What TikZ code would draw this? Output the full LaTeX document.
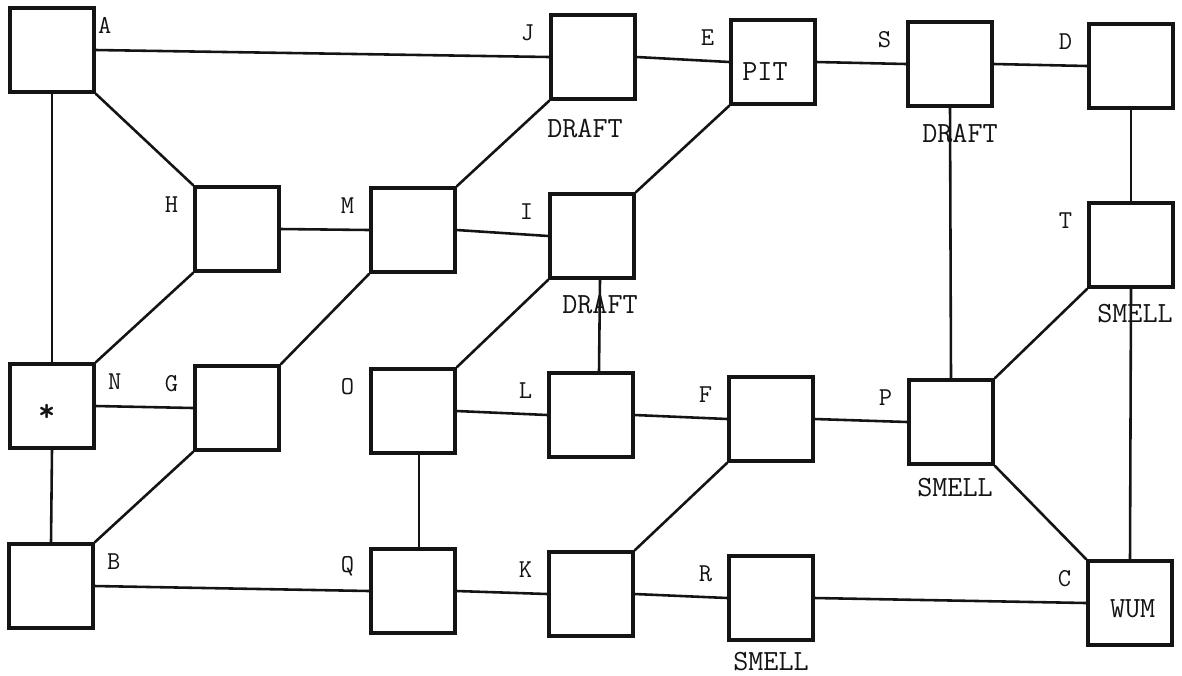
\documentclass[tikz,border=0pt]{standalone}
\usepackage{fontspec}
\usepackage{tikz}
\usetikzlibrary{positioning}
\definecolor{caveink}{RGB}{20,20,20}
\newcommand{\typer}{\ttfamily\fontsize{11}{13}\selectfont}
\newcommand{\typebig}{\ttfamily\fontsize{12.5}{15}\selectfont\addfontfeatures{LetterSpace=8}}

\begin{document}
\begin{tikzpicture}[x=0.015cm, y=-0.015cm,
        room/.style={draw=caveink, line width=1.4pt, minimum size=1.26cm, inner sep=0pt},
        pass/.style={caveink, line width=1.1pt},
        tag/.style={font=\typer, text=caveink, inner sep=0pt, anchor=east, xshift=-0.22cm, yshift=-0.29cm},
        tagr/.style={font=\typer, text=caveink, inner sep=0pt, anchor=west, xshift=0.18cm, yshift=-0.29cm},
        sense/.style={font=\typebig, text=caveink, inner sep=0pt}]
        \useasboundingbox (0,0) rectangle (1182,675);
        \node[room] (A) at (52,50) {};
        \node[room] (J) at (593,57) {};
        \node[room] (E) at (773,62) {};
        \node[room] (S) at (950,64) {};
        \node[room] (D) at (1131,66) {};
        \node[room] (H) at (237,229) {};
        \node[room] (M) at (413,230) {};
        \node[room] (I) at (592,236) {};
        \node[room] (T) at (1131,245) {};
        \node[room] (N) at (52,406) {};
        \node[room] (G) at (237,408) {};
        \node[room] (O) at (413,411) {};
        \node[room] (L) at (591,415) {};
        \node[room] (F) at (771,419) {};
        \node[room] (P) at (951,422) {};
        \node[room] (B) at (51,586) {};
        \node[room] (Q) at (413,591) {};
        \node[room] (K) at (591,594) {};
        \node[room] (R) at (771,598) {};
        \node[room] (C) at (1130,603) {};
        \node[tagr, xshift=-0.15cm] (Alab) at (A.north east) {A};
        \node[tag] (Jlab) at (J.north west) {J};
        \node[tag] (Elab) at (E.north west) {E};
        \node[tag] (Slab) at (S.north west) {S};
        \node[tag] (Dlab) at (D.north west) {D};
        \node[tag] (Hlab) at (H.north west) {H};
        \node[tag] (Mlab) at (M.north west) {M};
        \node[tag] (Ilab) at (I.north west) {I};
        \node[tag] (Tlab) at (T.north west) {T};
        \node[tagr] (Nlab) at (N.north east) {N};
        \node[tag] (Glab) at (G.north west) {G};
        \node[tag] (Olab) at (O.north west) {O};
        \node[tag] (Llab) at (L.north west) {L};
        \node[tag] (Flab) at (F.north west) {F};
        \node[tag] (Plab) at (P.north west) {P};
        \node[tagr] (Blab) at (B.north east) {B};
        \node[tag] (Qlab) at (Q.north west) {Q};
        \node[tag] (Klab) at (K.north west) {K};
        \node[tag] (Rlab) at (R.north west) {R};
        \node[tag] (Clab) at (C.north west) {C};
        \node[sense, xshift=-0.12cm, yshift=-0.15cm] (pit) at (E) {PIT};
        \node[sense, xshift=0.04cm, yshift=-0.08cm] (wum) at (C) {WUM};
        \node[sense, font=\ttfamily\bfseries\fontsize{14}{16}\selectfont, xshift=-0.08cm, yshift=-0.1cm] (start) at (N) {*};
        \node[sense, below=0.27cm of J, xshift=-0.12cm] (Jdraft) {DRAFT};
        \node[sense, below=0.22cm of I, xshift=0.12cm] (Idraft) {DRAFT};
        \node[sense, below=0.24cm of S, xshift=0.15cm] (Sdraft) {DRAFT};
        \node[sense, below=0.22cm of T, xshift=0.06cm] (Tsmell) {SMELL};
        \node[sense, below=0.18cm of P, xshift=0.06cm] (Psmell) {SMELL};
        \node[sense, below=0.15cm of R] (Rsmell) {SMELL};
        \draw[pass] (A.east) -- (J.west);
        \draw[pass] (J.east) -- (E.west);
        \draw[pass] (E.east) -- (S.west);
        \draw[pass] (S.east) -- (D.west);
        \draw[pass] (D.south) -- (T.north);
        \draw[pass] (T.south) -- (C.north);
        \draw[pass] (A.south east) -- (H.north west);
        \draw[pass] (A.south) -- (N.north);
        \draw[pass] (H.east) -- (M.west);
        \draw[pass] (H.south west) -- (N.north east);
        \draw[pass] (M.north east) -- (J.south west);
        \draw[pass] (M.east) -- (I.west);
        \draw[pass] (M.south west) -- (G.north east);
        \draw[pass] (I.north east) -- (E.south west);
        \draw[pass] (I.south west) -- (O.north east);
        \draw[pass] ([xshift=0.12cm]L.north) -- ([xshift=0.12cm]I.south);
        \draw[pass] (N.east) -- (G.west);
        \draw[pass] (N.south) -- (B.north);
        \draw[pass] (G.south west) -- (B.north east);
        \draw[pass] (O.east) -- (L.west);
        \draw[pass] ([xshift=0.09cm]O.south) -- ([xshift=0.09cm]Q.north);
        \draw[pass] (L.east) -- (F.west);
        \draw[pass] (F.east) -- (P.west);
        \draw[pass] (F.south west) -- (K.north east);
        \draw[pass] (S.south) -- (P.north);
        \draw[pass] (P.north east) -- (T.south west);
        \draw[pass] (P.south east) -- (C.north west);
        \draw[pass] (B.east) -- (Q.west);
        \draw[pass] (Q.east) -- (K.west);
        \draw[pass] (K.east) -- (R.west);
        \draw[pass] (R.east) -- (C.west);
      \end{tikzpicture}
\end{document}
